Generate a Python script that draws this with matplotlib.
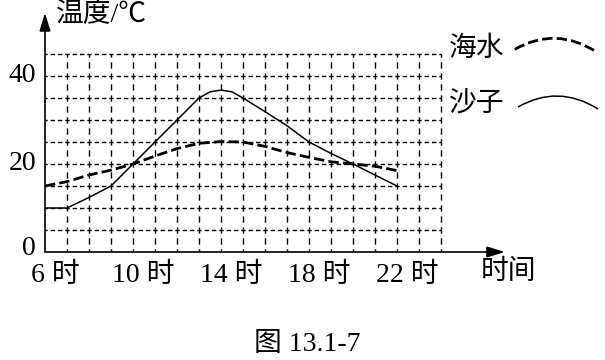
import numpy as np
import matplotlib
matplotlib.use('Agg')
import matplotlib.pyplot as plt
from matplotlib.path import Path
from matplotlib.patches import PathPatch

plt.rcParams['font.family'] = ['Liberation Serif', 'Noto Sans CJK SC']
plt.rcParams['lines.scale_dashes'] = False

# temperature (deg C)
sand_hours = [6, 7, 8, 9, 10, 11, 12, 13, 13.5, 14, 14.5, 15, 16, 17, 18, 19, 20, 21, 22]
sand_temp = [10, 10, 12.4, 15, 20, 25, 30, 35, 36.4, 36.8, 36.4, 35, 31.9, 28.7, 25, 22.4, 20, 17.5, 15]
sea_hours = [6, 7, 8, 9, 10, 11, 12, 13, 14, 15, 16, 17, 18, 19, 20, 21, 22]
sea_temp = [15, 16, 17.5, 18.6, 20, 21.8, 23.5, 24.7, 25.1, 25, 24, 22.6, 21.5, 20.5, 20, 19.5, 18.5]

x_ticks = [6, 10, 14, 18, 22]
y_ticks = [0, 20, 40]
grid_x = np.arange(7, 25)       # one line per hour, up to 24
grid_y = np.arange(5, 50, 5)    # every 5 deg, up to 45

fig = plt.figure(figsize=(6.05, 3.6), dpi=100)
ax = fig.add_axes([0, 0, 1, 1])
# 1 hour = 22 px, 5 deg = 22 px, origin at (45, 252) px from top-left
ax.set_xlim(6 - 45 / 22, 6 + 560 / 22)
ax.set_ylim(-108 / 4.4, 252 / 4.4)
ax.axis('off')

# dashed grid, dashes centred on crossings so they show as "+"
for gx in grid_x:
    ax.plot([gx, gx], [0, grid_y[-1]], color='k', lw=1.0,
            linestyle=(2.25, (4.5, 3.42)), solid_capstyle='butt')
for gy in grid_y:
    ax.plot([6, grid_x[-1]], [gy, gy], color='k', lw=1.0,
            linestyle=(1.6, (3.2, 2.08)), solid_capstyle='butt')

# axes with arrows
arrow = dict(arrowstyle='-|>,head_length=0.9,head_width=0.28', color='k',
             lw=1.2, mutation_scale=12, shrinkA=0, shrinkB=0)
ax.annotate('', xy=(26.9, 0), xytext=(6, 0), arrowprops=arrow)
ax.annotate('', xy=(6, 54.3), xytext=(6, 0), arrowprops=arrow)

# curves
ax.plot(sand_hours, sand_temp, color='k', lw=1.1)
ax.plot(sea_hours, sea_temp, color='k', lw=2.0, linestyle=(0, (7.5, 3)))

# labels
for t in y_ticks:
    ax.text(5.6, t + (0.8 if t == 0 else 0), str(t), ha='right', va='center', fontsize=20)
for h in x_ticks:
    ax.text(h + 0.45, -5.4, f'{h} 时', ha='center', va='center', fontsize=20)
ax.text(6.5, 53.9, '温度/℃', ha='left', va='center', fontsize=20)
ax.text(27.05, -4.6, '时间', ha='center', va='center', fontsize=20)

# legend
ax.text(25.6, 46.1, '海水', ha='center', va='center', fontsize=20)
ax.text(25.6, 33.6, '沙子', ha='center', va='center', fontsize=20)
sea_key = Path([(27.36, 46.07), (29.23, 51.41), (31.09, 45.39)],
               [Path.MOVETO, Path.CURVE3, Path.CURVE3])
sand_key = Path([(27.5, 32.95), (29.32, 38.18), (31.14, 32.5)],
                [Path.MOVETO, Path.CURVE3, Path.CURVE3])
ax.add_patch(PathPatch(sea_key, fill=False, lw=2.0, linestyle=(0, (7.5, 3))))
ax.add_patch(PathPatch(sand_key, fill=False, lw=1.1))

ax.text(17.9, -21.1, '图 13.1-7', ha='center', va='center', fontsize=20)

fig.savefig('out.png', dpi=100)
